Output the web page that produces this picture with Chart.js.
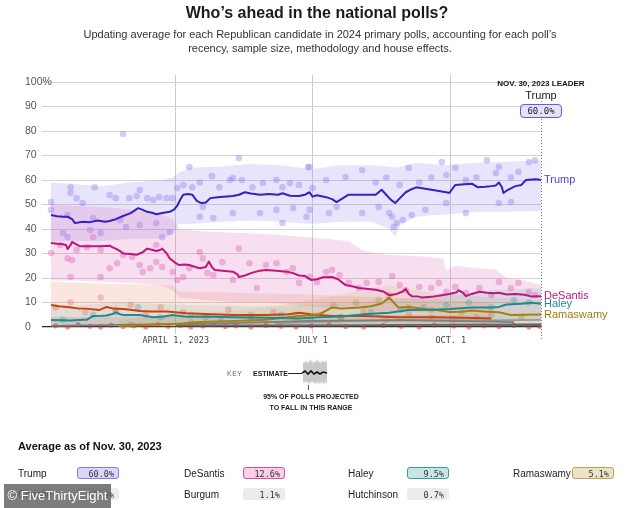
<!DOCTYPE html>
<html><head><meta charset="utf-8">
<script src="https://cdn.jsdelivr.net/npm/chart.js@4.4.0/dist/chart.umd.min.js"></script>
<style>
html,body{margin:0;padding:0;background:#fff;}
#wrap{position:relative;width:634px;height:508px;overflow:hidden;font-family:"Liberation Sans",Arial,sans-serif;color:#222;}
#c{position:absolute;left:0;top:0;}
.abs{position:absolute;white-space:nowrap;}
#title{left:0;width:634px;top:4px;text-align:center;font-weight:bold;font-size:16px;line-height:18px;color:#1b1b1b;}
#sub{left:0;width:640px;top:27px;text-align:center;font-size:11px;line-height:14px;color:#333;}
#lead1{left:491px;width:100px;top:79px;text-align:center;font-weight:bold;font-size:8px;line-height:10px;color:#111;}
#lead2{left:491px;width:100px;top:89px;text-align:center;font-size:11px;line-height:13px;color:#222;}
#leadbox{left:520px;top:104px;width:40px;height:12px;border:1.2px solid #6c56d8;border-radius:4px;background:rgba(222,215,252,0.75);font-family:"DejaVu Sans Mono",monospace;font-size:9px;line-height:12px;text-align:center;color:#222;}
.key{font-size:7px;line-height:9px;font-weight:bold;color:#222;}
#avg{left:18px;top:439px;font-weight:bold;font-size:11px;line-height:14px;color:#111;}
.nm{font-size:10px;line-height:13px;color:#222;}
.bx{height:12px;border-radius:3px;font-family:"DejaVu Sans Mono",monospace;font-size:8.5px;line-height:12px;text-align:right;color:#333;box-sizing:border-box;padding-right:4px;}
#wm{left:4px;top:484px;width:107px;height:24px;background:rgba(95,95,95,0.82);color:#fff;font-size:13px;line-height:24px;text-align:center;}
</style></head>
<body><div id="wrap">
<canvas id="c" width="634" height="508"></canvas>
<div id="title" class="abs">Who’s ahead in the national polls?</div>
<div id="sub" class="abs">Updating average for each Republican candidate in 2024 primary polls, accounting for each poll’s<br>recency, sample size, methodology and house effects.</div>
<div id="lead1" class="abs">NOV. 30, 2023 LEADER</div>
<div id="lead2" class="abs">Trump</div>
<div id="leadbox" class="abs">60.0%</div>
<div class="abs key" style="left:227px;top:369px;font-weight:normal;color:#666;letter-spacing:0.5px;">KEY</div>
<div class="abs key" style="left:253px;top:369px;">ESTIMATE</div>
<svg class="abs" style="left:286px;top:359px" width="46" height="32" viewBox="0 0 46 32">
<path d="M17 5 L18 2 L19 4 L20 1 L21 5 L22 2 L23 4 L24 0 L25 3 L26 1 L27 5 L28 2 L29 4 L30 1 L31 3 L32 0 L33 4 L34 2 L35 5 L36 1 L37 3 L38 2 L39 4 L40 1 L41 4 L41 23 L40 25 L39 22 L38 26 L37 23 L36 25 L35 22 L34 26 L33 23 L32 25 L31 22 L30 26 L29 23 L28 25 L27 22 L26 24 L25 22 L24 26 L23 23 L22 25 L21 22 L20 24 L19 22 L18 25 L17 22 Z" fill="#c9c9c9"/>
<line x1="2" y1="14.5" x2="16" y2="14.5" stroke="#222" stroke-width="1"/>
<polyline points="16,14 19,12 22,15 25,12 28,15 31,13 34,15 37,13 41,14" fill="none" stroke="#111" stroke-width="1.6"/>
<line x1="22.5" y1="26" x2="22.5" y2="31" stroke="#555" stroke-width="1"/>
</svg>
<div class="abs key" style="left:211px;width:200px;text-align:center;top:392px;">95% OF POLLS PROJECTED</div>
<div class="abs key" style="left:211px;width:200px;text-align:center;top:403px;">TO FALL IN THIS RANGE</div>
<div id="avg" class="abs">Average as of Nov. 30, 2023</div>
<div id="table"></div>
<div id="wm" class="abs">© FiveThirtyEight</div>
</div>
<script>
// ---------- DATA (day index: 0 = Jan 1, 2023) ----------
const xTickDays = [90, 181, 273];
const xTickLabels = ['APRIL 1, 2023', 'JULY 1', 'OCT. 1'];
const yTickValues = [0, 10, 20, 30, 40, 50, 60, 70, 80, 90, 100];
const endDay = 333;

const trumpDays = [7,11,15,18,21,23,28,33,38,43,46,50,55,60,65,68,71,75,77,81,86,89,91,93,95,98,101,104,107,110,113,118,124,128,132,136,140,146,152,158,161,166,172,176,179,181,184,190,194,197,201,205,212,218,223,227,230,233,236,239,243,246,250,255,260,265,270,272,276,282,287,291,296,300,303,305,307,308,311,316,320,323,327,330,333];
const trumpAvg = [45.7,45.2,45,45,44,42.4,43,42.8,43.5,43,43.3,44,45.3,46.5,48.5,47.8,47,46.5,46,46.5,47,48,49.5,52,54,54.3,54,51.5,50.6,50.8,52.6,53,53.3,53.5,54,55,54.5,54,54.3,54,54.6,53.6,53.5,54,55,53.2,53.8,53,52.2,51,52.5,54,54,54,54,56,54,52,50.6,52.5,55,56,57,56.5,56,55.5,55,54.7,58,58.3,58.5,57,57.2,57.5,57.8,59,57,54.7,56,57.5,58,60,60.2,60.3,60];

const desantisDays = [7,11,15,17,18,20,21,23,26,32,40,46,48,50,53,55,60,64,68,71,74,77,80,81,84,86,89,92,96,99,103,106,110,112,114,116,121,128,131,132,136,141,146,150,157,164,168,172,176,180,184,188,194,198,203,208,212,218,223,228,232,237,241,243,245,247,251,254,260,267,272,277,278,281,283,287,292,297,301,305,310,316,322,327,333];
const desantisAvg = [34.3,34,33.8,33.5,31.8,33.5,34.7,34,33,33,33,33.2,32.5,32,31,30,29.8,29.5,30.5,32,31.5,31,31.5,32,30,28,26.5,25.3,25.5,25.3,24.5,24,24.5,26.7,24.5,23.3,23,22.6,21.5,20.4,21,22.2,23,23.3,23,22.6,22,21,20.8,19.2,19.5,20.3,20.4,19.5,17.1,16.5,15.9,15.5,15.2,14.5,13,13.5,14.5,15.5,13.5,12.6,12.5,12,12.3,13,13.5,14.2,15,14,12.6,13.5,14.4,14,13.8,14,13.3,13.5,13.2,12.4,12.6];

const haleyDays = [7,15,20,28,31,35,41,44,48,50,53,55,62,66,75,82,88,97,110,128,150,172,185,200,217,232,245,260,272,287,300,305,310,320,327,333];
const haleyAvg = [2.9,2.8,2.7,3,3,4.5,4.6,4.7,5.3,6,5.2,4.9,4.9,4.9,4,4.3,4.9,4.2,4.3,4,3.8,3.5,4,4.3,5.3,5.8,6.9,7,7.3,8,8,8.2,9.2,9.5,9.9,9.5];

const ramaswamyDays = [52,70,90,106,130,150,172,185,194,200,212,220,227,232,235,238,245,256,265,272,280,287,295,305,313,322,333];
const ramaswamyAvg = [0.3,0.8,1.2,2,2.5,3,4.5,5,8,7.5,8,8.5,9.6,12,10,8,8.2,7.3,6.8,6.1,6.2,6.7,6.3,6,4.9,5,5.1];

const penceDays = [7,12,18,25,30,39,44,48,55,61,66,73,84,97,110,128,150,165,172,180,194,216,238,260,283,300];
const penceAvg = [9,8.5,8.2,7.6,7.5,6.9,8.2,7.6,7.3,6.9,6.5,6.3,6.3,5.6,5.3,4.9,4.9,5.2,5.8,5.2,4.5,4.5,4,4,3.8,3.5];

const christieDays = [156,180,210,240,270,300,333];
const christieAvg = [1.5,2,2.5,2.8,2.8,2.7,2.9];
const scottDays = [7,60,120,180,240,300,315];
const scottAvg = [0.5,1,1.5,2.5,2.8,2.2,2];
const burgumDays = [160,200,240,280,333];
const burgumAvg = [0.5,0.6,0.8,1,1.1];
const hutchinsonDays = [90,150,210,270,333];
const hutchinsonAvg = [0.6,0.7,0.7,0.8,0.7];

// 95% ranges
const trumpBandDays = [7,20,40,60,80,88,92,100,120,140,160,180,200,220,232,236,240,250,270,290,310,333];
const trumpBandHi = [59,58.5,57.5,59,60,61,63,65,65.5,66.5,66,64.5,66,66,65.5,65,65.5,67,66,67,67.5,68];
const trumpBandLo = [35,35,35,36,36,38,42,42,43,43.5,43,42,43,43,40,37,42,45,46,47,47,47.5];
const desantisBandDays = [7,20,40,60,80,88,92,110,130,150,170,190,205,215,230,250,268,270,276,290,303,310,322,333];
const desantisBandHi = [50,49.5,49,48,46,44,40,39,38.5,38,37,36,35,31,29.5,29,28,23,25,24,23.5,20,19,17];
const desantisBandLo = [19,19,18.5,18,17,15,12,11,10,10,9,8,7.5,7,6,6,5.5,5.5,5.5,5,5,5,5,5];
const penceBandDays = [7,30,60,88,92,130,170,210,250,300];
const penceBandHi = [18.5,18,17.5,17,14.5,14,13.5,12.5,11.5,10];
const penceBandLo = [1,1,1,1,0.5,0.5,0.5,0.5,0.5,0.5];
const haleyBandDays = [7,50,100,150,200,250,300,333];
const haleyBandHi = [8,10,9,8.5,9.5,12,15,16];
const haleyBandLo = [0,0.5,0.5,0.5,0.5,1,2,3];
const ramaswamyBandDays = [52,100,150,190,230,260,300,333];
const ramaswamyBandHi = [3,5,8,12,17,14,12,11];
const ramaswamyBandLo = [0,0,0,1,2,1.5,1,1];
const othersBandDays = [7,100,200,333];
const othersBandHi = [4,4.5,5,5];
const othersBandLo = [0,0,0,0];

// individual polls [day, value]
const trumpPolls = [[7,51],[7,47.8],[15,38.4],[18,45.7],[18,36.7],[20,54.7],[20,57],[24,52.6],[28,50.6],[33,39.6],[35,44.5],[36,57],[40,38.4],[46,53.9],[50,52.6],[53,43.7],[55,78.8],[57,40.8],[59,52.6],[64,53.5],[66,55.9],[66,41.6],[71,52.6],[75,51.8],[77,42.4],[79,53],[81,36.7],[84,52.6],[86,38.8],[88,52.6],[91,56.7],[95,58],[99,65.3],[101,57],[106,59],[106,45],[108,49],[114,61.6],[115,44.5],[119,57],[126,60],[128,60.8],[128,46.5],[132,69],[134,60],[141,57],[146,46.5],[148,58.8],[157,60],[157,47.8],[161,57],[161,42.4],[166,58.8],[168,48.6],[172,58],[177,45],[178,65.3],[179,65.3],[179,47.8],[181,56.7],[190,60],[192,46.5],[197,49],[203,61.2],[214,64],[214,46.5],[223,59],[225,49],[230,61],[232,46.5],[234,45],[235,40.8],[237,42.4],[239,58],[241,43.7],[245,65],[247,45.7],[252,59],[256,47.8],[260,61],[267,67.3],[270,62],[270,50.6],[276,65],[283,60],[283,46.5],[290,61],[297,68],[303,62.8],[305,65.3],[305,50.6],[313,61],[313,51],[318,63.3],[325,67.3],[329,68]];
const desantisPolls = [[7,30.2],[13,33.5],[18,28],[20,20.4],[21,27.3],[24,31.4],[31,32.6],[35,36.7],[40,31.4],[40,20.4],[46,24],[51,26],[55,29.4],[61,28.6],[66,25.3],[68,22.4],[73,24],[77,33.5],[77,26.5],[81,24.5],[88,22.4],[91,19.2],[95,20.4],[99,24],[106,30.6],[108,28],[111,22],[115,21.2],[121,26.5],[128,19.2],[132,32],[139,26],[144,15.9],[150,25.3],[157,26],[164,22.4],[168,24],[172,18],[179,20.4],[184,18.4],[190,22.4],[194,23.3],[199,21.2],[205,18],[212,15.9],[217,18],[225,18.4],[234,20.8],[239,17.1],[243,15.1],[252,16.3],[260,15.9],[265,18],[270,14.3],[276,16.3],[283,13.9],[292,15.9],[300,13],[305,18.4],[313,15.9],[318,18],[325,14.3],[329,13]];
const pencePolls = [[10,8],[20,10],[30,6],[40,12],[50,7],[60,9],[70,5],[80,8],[95,6],[110,4],[125,7],[140,5],[155,6],[170,3],[185,5],[200,4],[215,6],[230,3],[245,5],[260,4],[275,3],[290,4]];
const haleyPolls = [[15,3],[35,5],[50,6],[65,8],[80,4],[100,5],[120,3],[140,4],[160,5],[180,3],[200,4],[220,6],[240,7],[255,8],[270,9],[285,10],[300,8],[315,11],[325,10]];
const ramaswamyPolls = [[60,1],[100,2],[140,3],[170,5],[195,9],[210,10],[225,11],[232,13],[245,8],[260,7],[280,6],[300,5],[320,4]];
const otherPollDays = [10,18,25,33,40,47,55,62,70,78,85,93,100,108,115,123,130,140,150,160,170,180,192,203,215,228,240,252,262,275,285,295,305,315,325,332];
const otherPollVals = [0.5,0,1,0.3,0,0.8,0.2,0.5,0,1,0.3,0.6,0,0.4,1,0.2,0.5,0,0.7,0.3,0,0.5,1,0.2,0,0.6,0.3,0,0.8,0.4,0,0.5,0.2,0.7,0,0.3];

// table
const tableNames = ['Trump','DeSantis','Haley','Ramaswamy','Christie','Burgum','Hutchinson'];
const tableValues = ['60.0%','12.6%','9.5%','5.1%','2.9%','1.1%','0.7%'];
const tableFill = ['#ddd6fb','#f7cfe7','#c6e6e5','#ede4c8','#ececec','#ececec','#ececec'];
const tableBorder = ['#8b77e2','#d54ea2','#3f9c9e','#b9a25a','#ececec','#ececec','#ececec'];

// ---------- BUILD ----------
const zip = (d, v) => d.map((x, i) => ({x, y: v[i]}));
const pairs = a => a.map(p => ({x: p[0], y: p[1]}));

function band(days, lo, hi, color) {
  return [
    {type:'line', data: zip(days, lo), borderWidth:0, borderColor:'transparent', pointRadius:0, fill:false, order:30},
    {type:'line', data: zip(days, hi), borderWidth:0, borderColor:'transparent', pointRadius:0, fill:'-1', backgroundColor:color, order:30}
  ];
}
function line(days, vals, color, order, w) {
  return {type:'line', data: zip(days, vals), borderColor: color, borderWidth: w || 2, pointRadius:0, fill:false, tension:0, borderJoinStyle:'round', order};
}
function dots(data, color, r) {
  return {type:'scatter', data, backgroundColor: color, borderWidth:0, pointRadius: r || 3.3, order:20, clip:false};
}

const datasets = [
  ...band(othersBandDays, othersBandLo, othersBandHi, 'rgba(100,100,100,0.16)'),
  ...band(penceBandDays, penceBandLo, penceBandHi, 'rgba(232,140,110,0.22)'),
  ...band(haleyBandDays, haleyBandLo, haleyBandHi, 'rgba(60,160,160,0.14)'),
  ...band(ramaswamyBandDays, ramaswamyBandLo, ramaswamyBandHi, 'rgba(180,150,60,0.14)'),
  ...band(desantisBandDays, desantisBandLo, desantisBandHi, 'rgba(222,95,180,0.2)'),
  ...band(trumpBandDays, trumpBandLo, trumpBandHi, 'rgba(140,120,240,0.2)'),
  dots(pairs(trumpPolls), 'rgba(140,120,235,0.38)'),
  dots(pairs(desantisPolls), 'rgba(215,95,175,0.38)'),
  dots(pairs(pencePolls), 'rgba(215,100,70,0.3)'),
  dots(pairs(haleyPolls), 'rgba(50,150,150,0.3)'),
  dots(pairs(ramaswamyPolls), 'rgba(170,140,40,0.3)'),
  dots(zip(otherPollDays, otherPollVals), 'rgba(215,45,45,0.5)', 2.6),
  line(hutchinsonDays, hutchinsonAvg, '#6b6b6b', 9, 1.5),
  line(burgumDays, burgumAvg, '#5a5a5a', 9, 1.5),
  line(scottDays, scottAvg, '#7d7d7d', 9, 1.8),
  line(christieDays, christieAvg, '#9a9a9a', 9, 1.8),
  line(penceDays, penceAvg, '#c8420f', 6),
  line(ramaswamyDays, ramaswamyAvg, '#a4800f', 5),
  line(haleyDays, haleyAvg, '#1f8a90', 4),
  line(desantisDays, desantisAvg, '#c0147f', 2),
  line(trumpDays, trumpAvg, '#3a1fc0', 1)
];

const endLabels = ['Trump','DeSantis','Haley','Ramaswamy'];
const endValues = [trumpAvg.at(-1), desantisAvg.at(-1), haleyAvg.at(-1), ramaswamyAvg.at(-1)];
const endColors = ['#5540d0','#c0147f','#1f8a90','#9c7a13'];

const overlay = {
  id: 'overlay',
  afterDatasetsDraw(chart) {
    const {ctx, scales:{x, y}} = chart;
    const xe = Math.round(x.getPixelForValue(endDay)) + 0.5;
    ctx.save();
    ctx.strokeStyle = '#777'; ctx.lineWidth = 1; ctx.setLineDash([1, 2]);
    ctx.beginPath(); ctx.moveTo(xe, 98); ctx.lineTo(xe, 341); ctx.stroke();
    ctx.setLineDash([]);
    ctx.font = '11px "Liberation Sans", Arial, sans-serif';
    ctx.textBaseline = 'middle'; ctx.textAlign = 'left';
    endLabels.forEach((n, i) => {
      ctx.fillStyle = endColors[i];
      ctx.fillText(n, xe + 2.5, y.getPixelForValue(endValues[i]));
    });
    ctx.restore();
  }
};

new Chart(document.getElementById('c'), {
  type: 'line',
  data: { datasets },
  options: {
    responsive: false, animation: false, devicePixelRatio: 1, events: [],
    layout: { padding: { left: 25, right: 93, top: 75, bottom: 156 } },
    plugins: { legend: { display: false }, tooltip: { enabled: false } },
    scales: {
      x: {
        type: 'linear', min: 1, max: endDay,
        afterBuildTicks: s => { s.ticks = xTickDays.map(v => ({value: v})); },
        afterFit: s => { s.height = 25; },
        grid: { color: '#cdcdcd', lineWidth: 1, drawTicks: true, tickLength: 7 },
        border: { display: false },
        ticks: {
          autoSkip: false, maxRotation: 0, padding: 2, color: '#444',
          font: { family: '"DejaVu Sans Mono", monospace', size: 8.5 },
          callback: v => { const i = xTickDays.indexOf(v); return i >= 0 ? xTickLabels[i] : ''; }
        }
      },
      y: {
        type: 'linear', min: 0, max: 100 + 7 / 2.45,
        afterBuildTicks: s => { s.ticks = yTickValues.map(v => ({value: v})); },
        afterFit: s => { s.width = 17; s._computeLabelArea = () => undefined; },
        grid: { color: c => c.tick && c.tick.value === 0 ? '#2a2a2a' : '#d4d4d4', lineWidth: c => c.tick && c.tick.value === 0 ? 1.3 : 1, drawTicks: false },
        border: { display: false },
        ticks: {
          crossAlign: 'far', padding: 0, color: '#555',
          font: { family: '"Liberation Sans", Arial, sans-serif', size: 10.5 },
          callback: v => v === 100 ? '100%' : String(v)
        }
      }
    }
  },
  plugins: [overlay]
});

// summary table
const colX = [18, 184, 348, 513];
const rowY = [467, 488];
const tbl = document.getElementById('table');
tableNames.forEach((n, i) => {
  const r = Math.floor(i / 4), c = i % 4;
  const nm = document.createElement('div');
  nm.className = 'abs nm'; nm.textContent = n;
  nm.style.left = colX[c] + 'px'; nm.style.top = rowY[r] + 'px';
  tbl.appendChild(nm);
  const bx = document.createElement('div');
  bx.className = 'abs bx'; bx.textContent = tableValues[i];
  bx.style.left = (colX[c] + 59) + 'px'; bx.style.top = rowY[r] + 'px'; bx.style.width = '42px';
  bx.style.background = tableFill[i]; bx.style.border = '1.2px solid ' + tableBorder[i];
  tbl.appendChild(bx);
});
</script>
</body></html>
